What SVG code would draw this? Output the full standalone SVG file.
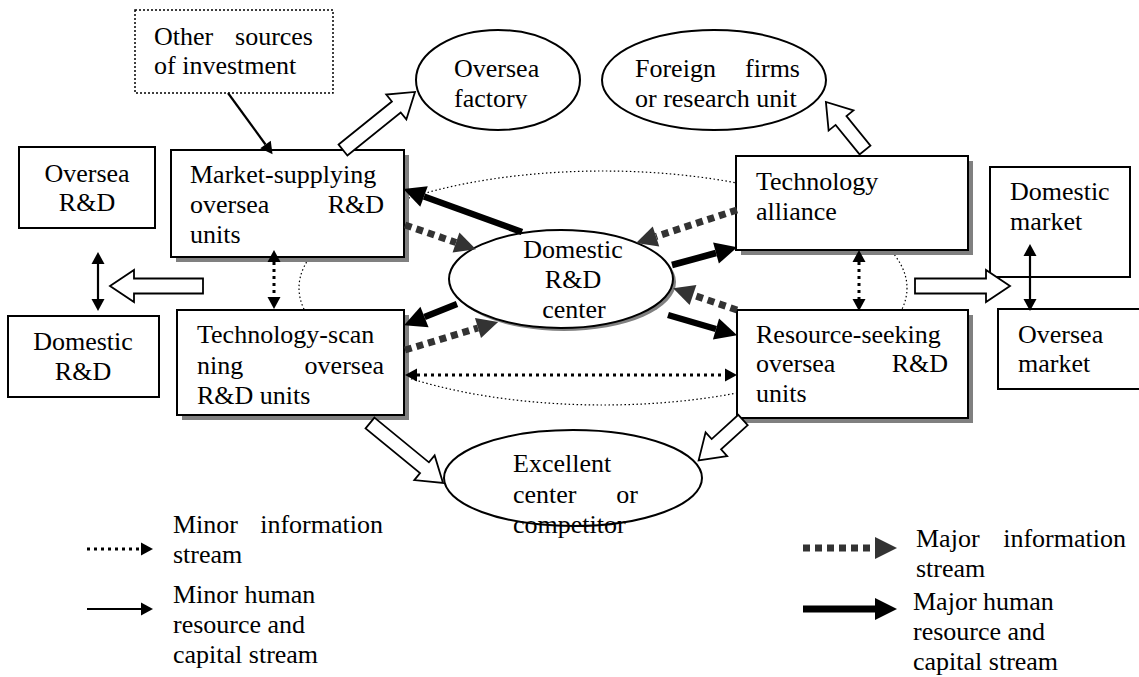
<svg xmlns="http://www.w3.org/2000/svg" width="1139" height="677" viewBox="0 0 1139 677" font-family="'Liberation Serif', 'Times New Roman', serif">
  <style>
    text { font-family: 'Liberation Serif', 'Times New Roman', serif; font-size: 26px; fill: #000; }
    .box { fill: #fff; stroke: #000; stroke-width: 2; }
    .shadow { fill: #808080; stroke: none; }
    .oval { fill: #fff; stroke: #000; stroke-width: 2; }
    .dotbox { fill: #fff; stroke: #000; stroke-width: 1.5; stroke-dasharray: 2 2; }
    .orbit { fill: none; stroke: #000; stroke-width: 1.2; stroke-dasharray: 1.5 2.5; }
    .majorInfo { fill: none; stroke: #333; stroke-width: 7; stroke-dasharray: 7 5; marker-end: url(#headMajorInfo); }
    .majorHuman { fill: none; stroke: #000; stroke-width: 6.5; marker-end: url(#headMajorHuman); }
    .minorInfo { fill: none; stroke: #000; stroke-width: 3; stroke-dasharray: 3 4; }
    .minorHuman { fill: none; stroke: #000; stroke-width: 2.2; }
    .block { fill: #fff; stroke: #000; stroke-width: 1.8; stroke-linejoin: miter; }
  </style>
  <defs>
    <marker id="headMajorInfo" markerUnits="userSpaceOnUse" markerWidth="30" markerHeight="30" refX="0" refY="0" orient="auto" overflow="visible">
      <path d="M0,-10.5 L21,0 L0,10.5 Z" fill="#333"/>
    </marker>
    <marker id="headMajorHuman" markerUnits="userSpaceOnUse" markerWidth="30" markerHeight="30" refX="0" refY="0" orient="auto" overflow="visible">
      <path d="M0,-11 L22,0 L0,11 Z" fill="#000"/>
    </marker>
    <marker id="headMinor" markerUnits="userSpaceOnUse" markerWidth="20" markerHeight="20" refX="0" refY="0" orient="auto-start-reverse" overflow="visible">
      <path d="M0,-6.5 L12,0 L0,6.5 Z" fill="#000"/>
    </marker>
    <marker id="headLegendInfo" markerUnits="userSpaceOnUse" markerWidth="30" markerHeight="30" refX="0" refY="0" orient="auto" overflow="visible">
      <path d="M0,-11 L22,0 L0,11 Z" fill="#333"/>
    </marker>
    <marker id="headLegendHuman" markerUnits="userSpaceOnUse" markerWidth="30" markerHeight="30" refX="0" refY="0" orient="auto" overflow="visible">
      <path d="M0,-11 L22,0 L0,11 Z" fill="#000"/>
    </marker>
    <clipPath id="factoryClip">
      <rect x="400" y="0" width="200" height="108.5"/>
    </clipPath>
  </defs>

  <rect width="1139" height="677" fill="#fff"/>

  <!-- dotted ring linking the four kinds of overseas units -->
  <ellipse class="orbit" cx="603" cy="288" rx="304" ry="117"/>

  <g id="other-sources">
    <rect class="dotbox" x="135" y="10" width="198" height="83"/>
    <text x="154" y="45">Other</text>
    <text x="313" y="45" text-anchor="end">sources</text>
    <text x="154" y="74">of investment</text>
  </g>

  <g id="oversea-factory">
    <ellipse class="oval" cx="498" cy="80" rx="82" ry="50"/>
    <g clip-path="url(#factoryClip)">
      <text x="454" y="77">Oversea</text>
      <text x="454" y="107">factory</text>
    </g>
  </g>

  <g id="foreign-firms">
    <ellipse class="oval" cx="714" cy="80" rx="112" ry="50"/>
    <text x="635" y="77">Foreign</text>
    <text x="800" y="77" text-anchor="end">firms</text>
    <text x="635" y="107">or research unit</text>
  </g>

  <g id="oversea-rd">
    <rect class="box" x="19" y="147" width="136" height="81"/>
    <text x="87" y="182" text-anchor="middle">Oversea</text>
    <text x="87" y="211" text-anchor="middle">R&amp;D</text>
  </g>

  <g id="domestic-rd">
    <rect class="box" x="8" y="316" width="151" height="81"/>
    <text x="83" y="350" text-anchor="middle">Domestic</text>
    <text x="83" y="380" text-anchor="middle">R&amp;D</text>
  </g>

  <g id="market-supplying">
    <rect class="shadow" x="176" y="155" width="233" height="107"/>
    <rect class="box" x="171" y="150" width="233" height="107"/>
    <text x="190" y="183">Market-supplying</text>
    <text x="190" y="213">oversea</text>
    <text x="384" y="213" text-anchor="end">R&amp;D</text>
    <text x="190" y="243">units</text>
  </g>

  <g id="technology-scanning">
    <rect class="shadow" x="182" y="315" width="227" height="105"/>
    <rect class="box" x="177" y="310" width="227" height="105"/>
    <text x="197" y="343">Technology-scan</text>
    <text x="197" y="374">ning</text>
    <text x="384" y="374" text-anchor="end">oversea</text>
    <text x="197" y="404">R&amp;D units</text>
  </g>

  <g id="domestic-center">
    <ellipse class="shadow" cx="564" cy="282" rx="112" ry="49"/>
    <ellipse class="oval" cx="561" cy="279" rx="112" ry="49"/>
    <text x="573" y="258" text-anchor="middle">Domestic</text>
    <text x="573" y="288" text-anchor="middle">R&amp;D</text>
    <text x="574" y="318" text-anchor="middle">center</text>
  </g>

  <g id="technology-alliance">
    <rect class="shadow" x="741" y="161" width="232" height="94"/>
    <rect class="box" x="736" y="156" width="232" height="94"/>
    <text x="756" y="190">Technology</text>
    <text x="756" y="220">alliance</text>
  </g>

  <g id="resource-seeking">
    <rect class="shadow" x="742" y="315" width="231" height="108"/>
    <rect class="box" x="737" y="310" width="231" height="108"/>
    <text x="756" y="343">Resource-seeking</text>
    <text x="756" y="372">oversea</text>
    <text x="948" y="372" text-anchor="end">R&amp;D</text>
    <text x="756" y="402">units</text>
  </g>

  <g id="domestic-market">
    <rect class="box" x="990" y="167" width="140" height="110"/>
    <text x="1010" y="200">Domestic</text>
    <text x="1010" y="230">market</text>
  </g>

  <g id="oversea-market">
    <rect class="box" x="998" y="309" width="145" height="80"/>
    <text x="1018" y="343">Oversea</text>
    <text x="1018" y="372">market</text>
  </g>

  <g id="excellent-center">
    <ellipse class="oval" cx="573" cy="478" rx="129" ry="48"/>
    <text x="513" y="472">Excellent</text>
    <text x="513" y="503">center</text>
    <text x="638" y="503" text-anchor="end">or</text>
    <text x="513" y="533">competitor</text>
  </g>

  <g id="connectors">
    <!-- major human resource and capital streams -->
    <line class="majorHuman" x1="522" y1="232" x2="424" y2="196.5"/>
    <line class="majorHuman" x1="672" y1="265" x2="716" y2="253"/>
    <line class="majorHuman" x1="457" y1="304" x2="424.5" y2="317"/>
    <line class="majorHuman" x1="668" y1="315" x2="716" y2="329"/>

    <!-- major information streams -->
    <line class="majorInfo" x1="405" y1="225" x2="456" y2="242.5"/>
    <line class="majorInfo" x1="737" y1="210" x2="656" y2="236.5"/>
    <line class="majorInfo" x1="405" y1="350" x2="478" y2="328"/>
    <line class="majorInfo" x1="737" y1="310" x2="693" y2="295"/>

    <!-- minor information streams -->
    <line class="minorInfo" x1="417" y1="375" x2="725" y2="375" marker-start="url(#headMinor)" marker-end="url(#headMinor)"/>
    <line class="minorInfo" x1="274" y1="262" x2="274" y2="297" marker-start="url(#headMinor)" marker-end="url(#headMinor)"/>
    <line class="minorInfo" x1="859" y1="262" x2="859" y2="299" marker-start="url(#headMinor)" marker-end="url(#headMinor)"/>

    <!-- minor human resource and capital streams -->
    <line class="minorHuman" x1="98" y1="264" x2="98" y2="299" marker-start="url(#headMinor)" marker-end="url(#headMinor)"/>
    <line class="minorHuman" x1="1030" y1="256" x2="1030" y2="299" marker-start="url(#headMinor)" marker-end="url(#headMinor)"/>
    <line class="minorHuman" x1="228" y1="93" x2="265.5" y2="144.5" stroke-width="3.5" marker-end="url(#headMinor)"/>

    <!-- outward block arrows -->
    <path class="block" transform="translate(343,150) rotate(-38.9)" d="M0,-7 H68.5 V-16 L92.5,0 L68.5,16 V7 H0 Z"/>
    <path class="block" transform="translate(865,150) rotate(-129.1)" d="M0,-7 H38 V-16 L62,0 L38,16 V7 H0 Z"/>
    <path class="block" transform="translate(370,423) rotate(39.4)" d="M0,-7 H70.5 V-16 L94.5,0 L70.5,16 V7 H0 Z"/>
    <path class="block" transform="translate(743,420) rotate(137.7)" d="M0,-7 H36 V-16 L60,0 L36,16 V7 H0 Z"/>
    <path class="block" transform="translate(203,286) rotate(180)" d="M0,-7.5 H69 V-16 L93,0 L69,16 V7.5 H0 Z"/>
    <path class="block" transform="translate(915,286)" d="M0,-7.5 H71 V-16 L95,0 L71,16 V7.5 H0 Z"/>
  </g>

  <g id="legend">
    <line class="minorInfo" x1="87" y1="549" x2="141" y2="549" marker-end="url(#headMinor)"/>
    <text x="173" y="533">Minor</text>
    <text x="383" y="533" text-anchor="end">information</text>
    <text x="173" y="563">stream</text>

    <line class="minorHuman" x1="87" y1="609" x2="141" y2="609" stroke-width="3.5" marker-end="url(#headMinor)"/>
    <text x="173" y="603">Minor human</text>
    <text x="173" y="633">resource and</text>
    <text x="173" y="663">capital stream</text>

    <line x1="803" y1="548" x2="875" y2="548" stroke="#333" stroke-width="7" stroke-dasharray="7 5" marker-end="url(#headLegendInfo)"/>
    <text x="916" y="547">Major</text>
    <text x="1126" y="547" text-anchor="end">information</text>
    <text x="916" y="577">stream</text>

    <line x1="803" y1="609" x2="875" y2="609" stroke="#000" stroke-width="7" marker-end="url(#headLegendHuman)"/>
    <text x="913" y="610">Major human</text>
    <text x="913" y="640">resource and</text>
    <text x="913" y="670">capital stream</text>
  </g>
</svg>
